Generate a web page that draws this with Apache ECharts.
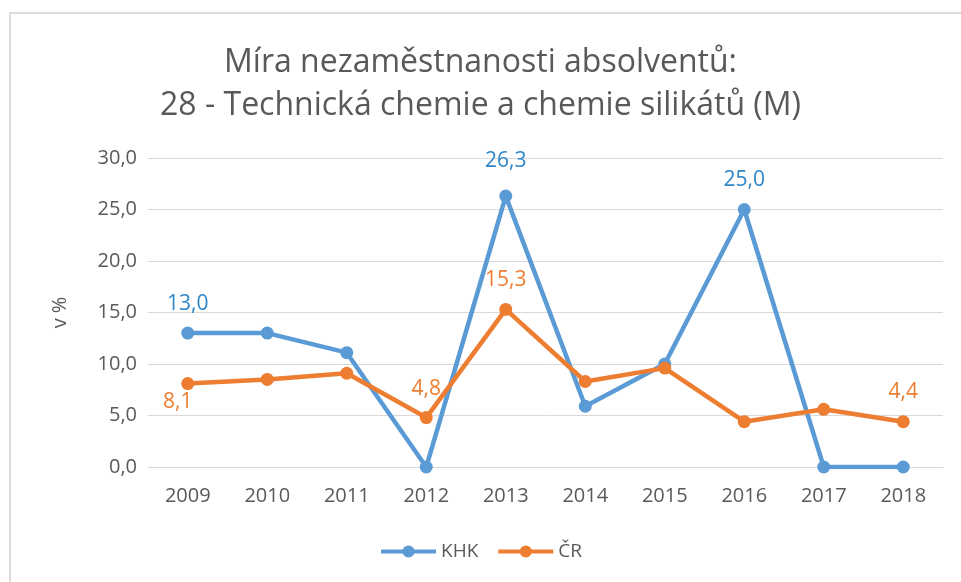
<!DOCTYPE html>
<html>
<head>
<meta charset="utf-8">
<script src="https://cdn.jsdelivr.net/npm/echarts@6/dist/echarts.min.js"></script>
<style>
  html, body { margin: 0; padding: 0; background: #fff; }
  #frame { position: absolute; left: 9px; top: 12px; width: 960px; height: 580px; border: 2px solid #dcdcdc; box-sizing: border-box; }
  #main { position: absolute; left: 0; top: 0; width: 961px; height: 582px; }
</style>
</head>
<body>
<div id="frame"></div>
<div id="main"></div>
<script>
  var years = ['2009', '2010', '2011', '2012', '2013', '2014', '2015', '2016', '2017', '2018'];
  var khk = [13.0, 13.0, 11.1, 0.0, 26.3, 5.9, 10.0, 25.0, 0.0, 0.0];
  var cr = [8.1, 8.5, 9.1, 4.8, 15.3, 8.3, 9.6, 4.4, 5.6, 4.4];
  // which points carry a value label: [position, distance, x offset]
  var khkLabels = {0: ['top', 12, 0], 4: ['top', 18, 0], 7: ['top', 12, 0]};
  var crLabels = {0: ['bottom', 1, -10], 3: ['top', 12, 0], 4: ['top', 12, 0], 9: ['top', 13, 0]};

  var font = '"Open Sans", "Noto Sans", sans-serif';
  var fmt = function (v) { return v.toFixed(1).replace('.', ','); };

  function build(values, labels, color) {
    return values.map(function (v, i) {
      var p = {value: v};
      var l = labels[i];
      if (l) {
        p.label = {show: true, position: l[0], distance: l[1], offset: [l[2], 0], color: color,
          fontSize: 21, fontFamily: font, formatter: function (o) { return fmt(o.value); }};
      }
      return p;
    });
  }

  var chart = echarts.init(document.getElementById('main'));
  chart.setOption({
    animation: false,
    title: {
      text: 'Míra nezaměstnanosti absolventů:\n28 - Technická chemie a chemie silikátů (M)',
      left: 'center',
      top: 36,
      textStyle: {fontSize: 32, fontWeight: 'normal', color: '#595959', fontFamily: font, lineHeight: 43}
    },
    legend: {
      bottom: 16,
      left: 'center',
      itemWidth: 55,
      itemHeight: 15,
      itemGap: 18,
      lineStyle: {width: 4},
      textStyle: {fontSize: 19, color: '#595959', fontFamily: font},
      data: ['KHK', 'ČR']
    },
    grid: {left: 148, right: 18, top: 158, bottom: 115},
    xAxis: {
      type: 'category',
      data: years,
      axisLine: {lineStyle: {color: '#d9d9d9', width: 1}},
      axisTick: {show: false},
      axisLabel: {fontSize: 20, color: '#595959', fontFamily: font, margin: 19}
    },
    yAxis: {
      type: 'value',
      min: 0,
      max: 30,
      interval: 5,
      name: 'v %',
      nameLocation: 'middle',
      nameGap: 78,
      nameTextStyle: {fontSize: 20, color: '#595959', fontFamily: font},
      axisLine: {show: false},
      axisTick: {show: false},
      axisLabel: {fontSize: 20, color: '#595959', fontFamily: font, margin: 11, formatter: fmt},
      splitLine: {lineStyle: {color: '#d9d9d9', width: 1}}
    },
    series: [
      {
        name: 'KHK',
        type: 'line',
        data: build(khk, khkLabels, '#2e86c9'),
        symbol: 'circle',
        symbolSize: 13,
        lineStyle: {width: 4.5, color: '#5b9bd5'},
        itemStyle: {color: '#5b9bd5'}
      },
      {
        name: 'ČR',
        type: 'line',
        data: build(cr, crLabels, '#ed7d31'),
        symbol: 'circle',
        symbolSize: 13,
        lineStyle: {width: 4.5, color: '#ed7d31'},
        itemStyle: {color: '#ed7d31'}
      }
    ]
  });
</script>
</body>
</html>
